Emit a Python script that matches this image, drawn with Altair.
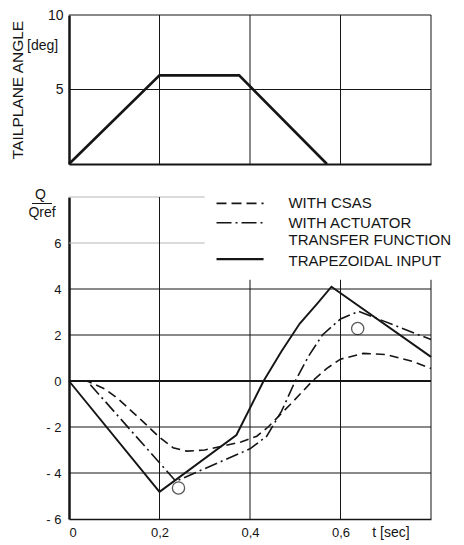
import altair as alt
import pandas as pd

# ---------------- data ----------------
# upper panel: trapezoidal tailplane input
top_t = [0.0, 0.2, 0.376, 0.57]
top_angle = [0.0, 5.95, 5.95, 0.0]
top_y_ticks = [5, 10]

# lower panel: pitch-rate response Q/Qref
trap_t = [0.0, 0.2, 0.37, 0.43, 0.47, 0.51, 0.55, 0.58, 0.8]
trap_q = [0.0, -4.82, -2.35, 0.0, 1.3, 2.5, 3.4, 4.1, 1.05]

act_t = [0.0, 0.04, 0.236, 0.40, 0.437, 0.47, 0.50, 0.53, 0.56, 0.60, 0.64, 0.8]
act_q = [0.0, 0.0, -4.36, -2.95, -2.4, -1.3, 0.0, 1.1, 2.0, 2.7, 3.03, 1.8]

csas_t = [0.0, 0.04, 0.08, 0.11, 0.16, 0.2, 0.23, 0.26, 0.3, 0.335, 0.38, 0.415,
          0.44, 0.49, 0.538, 0.57, 0.6, 0.65, 0.7, 0.76, 0.8]
csas_q = [0.0, 0.0, -0.35, -0.8, -1.7, -2.45, -2.9, -3.05, -3.0, -2.85, -2.65, -2.4,
          -2.0, -1.0, 0.0, 0.55, 0.95, 1.2, 1.15, 0.85, 0.54]

circle_t = [0.242, 0.638]
circle_q = [-4.65, 2.28]

bot_x_ticks = [0, 0.2, 0.4, 0.6]
bot_x_labels = ["0", "0,2", "0,4", "0,6"]
bot_y_ticks = [-6, -4, -2, 0, 2, 4, 6]

legend_labels = ["WITH CSAS", "WITH ACTUATOR", "TRANSFER FUNCTION", "TRAPEZOIDAL INPUT"]
legend_text_y = [7.75, 6.88, 6.12, 5.2]
legend_line_y = [7.72, 6.88, 5.3]

INK = "#151515"
FONT = "Liberation Sans"

xs = alt.Scale(domain=[0, 0.8], nice=False, zero=False)
ys_top = alt.Scale(domain=[0, 10], nice=False, zero=False)
ys_bot = alt.Scale(domain=[-6, 8], nice=False, zero=False)

# ---------------- upper panel ----------------
top_xaxis = alt.Axis(values=[0.2], labels=False, ticks=False, grid=False, title=None,
                     domainWidth=2, domainColor=INK)
top_yaxis = alt.Axis(values=top_y_ticks, ticks=False, grid=False, title="TAILPLANE ANGLE",
                     titleFontSize=15.5, titleFontWeight="normal", titlePadding=22,
                     titleColor=INK, titleFont=FONT, labelPadding=6, labelFontSize=14,
                     labelFont=FONT, labelColor=INK, domainWidth=2.5, domainColor=INK)

top_df = pd.DataFrame({"t": top_t, "a": top_angle})
top_vg = pd.DataFrame({"t": [0.2, 0.4, 0.6, 0.8]})
top_hg = pd.DataFrame({"v": [5, 10]})

tv = alt.Chart(top_vg).mark_rule(color=INK, strokeWidth=1).encode(
    x=alt.X("t:Q", scale=xs, axis=top_xaxis))
th = alt.Chart(top_hg).mark_rule(color=INK, strokeWidth=1).encode(
    y=alt.Y("v:Q", scale=ys_top, axis=top_yaxis))
tline = alt.Chart(top_df).mark_line(color=INK, strokeWidth=2.6).encode(
    x=alt.X("t:Q", scale=xs, axis=top_xaxis),
    y=alt.Y("a:Q", scale=ys_top, axis=top_yaxis))
deg = alt.Chart(pd.DataFrame({"s": ["[deg]"]})).mark_text(
    align="left", baseline="middle", fontSize=14, font=FONT, color=INK).encode(
    x=alt.value(-42), y=alt.value(31), text="s:N")

top = alt.layer(tv, th, tline, deg).properties(width=362, height=149)

# ---------------- lower panel ----------------
label_list = "[" + ",".join("'%s'" % s for s in bot_x_labels) + "]"
bot_xaxis = alt.Axis(values=bot_x_ticks, ticks=False, grid=False, title=None,
                     labelExpr=label_list + "[round(datum.value * 5)]",
                     labelPadding=7, labelFontSize=13, labelFont=FONT, labelColor=INK,
                     domainWidth=1.5, domainColor=INK)
bot_yaxis = alt.Axis(values=bot_y_ticks, ticks=False, grid=False, title=None,
                     labelExpr="datum.value < 0 ? '- ' + abs(datum.value) : '' + datum.value",
                     labelPadding=8, labelFontSize=13, labelFont=FONT, labelColor=INK,
                     domainWidth=2.5, domainColor=INK)

hfull = pd.DataFrame({"v": [-4, -2, 2, 4], "x0": [0] * 4, "x1": [0.8] * 4})
hzero = pd.DataFrame({"v": [0], "x0": [0], "x1": [0.8]})
hlight = pd.DataFrame({"v": [6, 8], "x0": [0, 0], "x1": [0.3, 0.3]})
vgrid = pd.DataFrame({"t": [0.2, 0.4, 0.6, 0.8], "y0": [-6] * 4, "y1": [8, 4.4, 4.4, 4.4]})


def hrule(df, color, width):
    return alt.Chart(df).mark_rule(color=color, strokeWidth=width).encode(
        x=alt.X("x0:Q", scale=xs, axis=bot_xaxis), x2="x1:Q",
        y=alt.Y("v:Q", scale=ys_bot, axis=bot_yaxis))


g1 = hrule(hfull, INK, 1)
g2 = hrule(hzero, INK, 2)
g3 = hrule(hlight, "#b8b8b8", 1.2)
g4 = alt.Chart(vgrid).mark_rule(color=INK, strokeWidth=1).encode(
    x=alt.X("t:Q", scale=xs, axis=bot_xaxis),
    y=alt.Y("y0:Q", scale=ys_bot, axis=bot_yaxis), y2="y1:Q")


def curve(t, q, dash, width):
    df = pd.DataFrame({"t": t, "q": q})
    kw = dict(color=INK, strokeWidth=width)
    if dash:
        kw["strokeDash"] = dash
    return alt.Chart(df).mark_line(**kw).encode(
        x=alt.X("t:Q", scale=xs, axis=bot_xaxis),
        y=alt.Y("q:Q", scale=ys_bot, axis=bot_yaxis))


c_csas = curve(csas_t, csas_q, [9, 5], 1.6)
c_act = curve(act_t, act_q, [13, 4, 2, 4], 1.6)
c_trap = curve(trap_t, trap_q, None, 1.9)

circ = alt.Chart(pd.DataFrame({"t": circle_t, "q": circle_q})).mark_point(
    shape="circle", size=150, filled=False, color=INK, strokeWidth=1.3).encode(
    x=alt.X("t:Q", scale=xs, axis=bot_xaxis),
    y=alt.Y("q:Q", scale=ys_bot, axis=bot_yaxis))

leg_lines = []
for y, dash, w in zip(legend_line_y, [[10, 5], [15, 4, 2, 4], None], [1.8, 1.6, 2.2]):
    kw = dict(color=INK, strokeWidth=w)
    if dash:
        kw["strokeDash"] = dash
    leg_lines.append(alt.Chart(pd.DataFrame({"x0": [0.326], "x1": [0.43], "v": [y]})).mark_rule(**kw).encode(
        x=alt.X("x0:Q", scale=xs, axis=bot_xaxis), x2="x1:Q",
        y=alt.Y("v:Q", scale=ys_bot, axis=bot_yaxis)))

leg_text = alt.Chart(pd.DataFrame({"s": legend_labels, "x": [0.485] * 4, "v": legend_text_y})).mark_text(
    align="left", baseline="middle", fontSize=15, font=FONT, color=INK).encode(
    x=alt.X("x:Q", scale=xs, axis=bot_xaxis),
    y=alt.Y("v:Q", scale=ys_bot, axis=bot_yaxis), text="s:N")

q_top = alt.Chart(pd.DataFrame({"s": ["Q"]})).mark_text(
    align="center", baseline="middle", fontSize=14, font=FONT, color=INK).encode(
    x=alt.value(-28.5), y=alt.value(-2), text="s:N")
q_bar = alt.Chart(pd.DataFrame({"s": ["bar"]})).mark_rule(color=INK, strokeWidth=1).encode(
    x=alt.value(-37), x2=alt.value(-17), y=alt.value(6.5))
q_bot = alt.Chart(pd.DataFrame({"s": ["Qref"]})).mark_text(
    align="center", baseline="middle", fontSize=14, font=FONT, color=INK).encode(
    x=alt.value(-27), y=alt.value(16), text="s:N")
t_lab = alt.Chart(pd.DataFrame({"s": ["t [sec]"]})).mark_text(
    align="center", baseline="middle", fontSize=14, font=FONT, color=INK).encode(
    x=alt.value(322), y=alt.value(336), text="s:N")

bottom = alt.layer(g3, g1, g4, g2, c_csas, c_act, c_trap, circ, *leg_lines, leg_text,
                   q_top, q_bar, q_bot, t_lab).properties(width=362, height=322)

chart = alt.vconcat(top, bottom, spacing=18).properties(
    padding={"left": 2, "top": 0, "right": 0, "bottom": 0},
    background="white",
).configure_view(stroke=None)

chart.save("out.html", embed_options={"renderer": "svg", "actions": False})
